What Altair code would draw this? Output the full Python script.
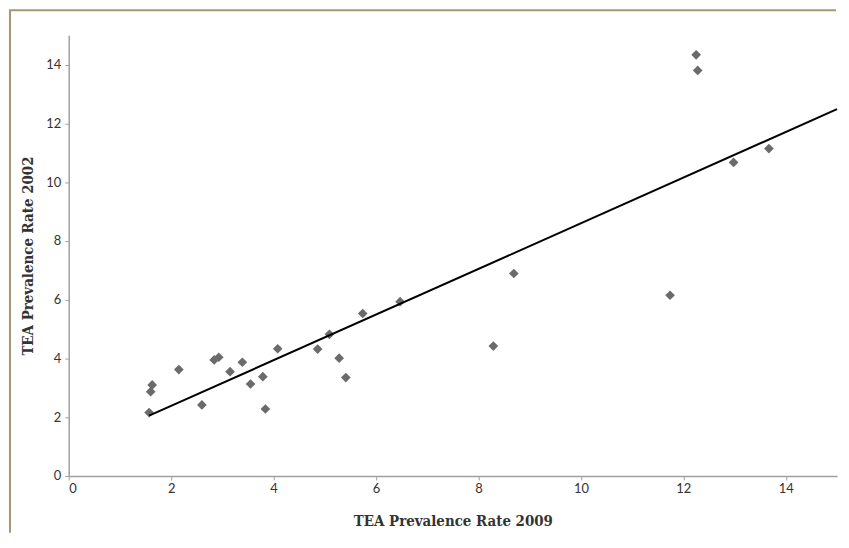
import altair as alt
import pandas as pd

rate_2009 = [1.57, 1.60, 1.63, 2.15, 2.60, 2.84, 2.93, 3.15, 3.39, 3.55, 3.79, 3.84, 4.08,
             4.86, 5.09, 5.28, 5.41, 5.74, 6.47, 8.29, 8.69, 11.74, 12.25, 12.28, 12.98, 13.67]
rate_2002 = [2.16, 2.87, 3.10, 3.62, 2.42, 3.95, 4.04, 3.55, 3.87, 3.13, 3.38, 2.28, 4.33,
             4.32, 4.82, 4.01, 3.35, 5.53, 5.93, 4.42, 6.89, 6.15, 14.33, 13.80, 10.67, 11.14]
tick_values = [0, 2, 4, 6, 8, 10, 12, 14]

df = pd.DataFrame({"x": rate_2009, "y": rate_2002})

AXIS_GRAY = "#a0a0a0"
LABEL_FONT = "Lato"
TITLE_FONT = "DejaVu Serif Condensed, DejaVu Serif"

xscale = alt.Scale(domain=[0, 15], nice=False, zero=True)
yscale = alt.Scale(domain=[0, 15], nice=False, zero=True)

xaxis = alt.Axis(values=tick_values, title="TEA Prevalence Rate 2009", grid=False,
                 domainColor=AXIS_GRAY, domainWidth=1.5, tickColor=AXIS_GRAY, tickSize=4,
                 labelFont=LABEL_FONT, labelFontSize=13, labelColor="#333333", labelPadding=3,
                 titleFont=TITLE_FONT, titleFontSize=15, titleFontWeight="bold",
                 titleColor="#333333", titlePadding=18)
yaxis = alt.Axis(values=tick_values, title="TEA Prevalence Rate 2002", grid=False,
                 domainColor=AXIS_GRAY, domainWidth=1.5, tickColor=AXIS_GRAY, tickSize=4,
                 labelFont=LABEL_FONT, labelFontSize=13, labelColor="#333333", labelPadding=4,
                 titleFont=TITLE_FONT, titleFontSize=15, titleFontWeight="bold",
                 titleColor="#333333", titlePadding=10)

base = alt.Chart(df)

points = base.mark_point(shape="diamond", filled=True, size=95, color="#6b6b6b",
                         opacity=1).encode(
    x=alt.X("x:Q", scale=xscale, axis=xaxis),
    y=alt.Y("y:Q", scale=yscale, axis=yaxis),
)

trend = base.transform_regression("x", "y", extent=[min(rate_2009), 15]).mark_line(
    color="black", strokeWidth=2).encode(
    x=alt.X("x:Q", scale=xscale),
    y=alt.Y("y:Q", scale=yscale),
)

FRAME = "#a69676"
frame_left = alt.Chart(pd.DataFrame({"k": [0]})).mark_rule(
    color=FRAME, strokeWidth=2, clip=False).encode(
    x=alt.value(-59), y=alt.value(-25), y2=alt.value(500))
frame_top = alt.Chart(pd.DataFrame({"k": [0]})).mark_rule(
    color=FRAME, strokeWidth=2, clip=False).encode(
    x=alt.value(-60), x2=alt.value(771), y=alt.value(-25))

chart = alt.layer(frame_left, frame_top, points, trend).properties(
    width=772, height=443,
    padding={"left": 0, "top": 0, "right": 0, "bottom": 0},
    background="white"
).configure(padding={"left": 0, "top": 0, "right": 0, "bottom": 0}
).configure_view(stroke=None)

chart.save("out.html", embed_options={"renderer": "svg", "actions": False})
